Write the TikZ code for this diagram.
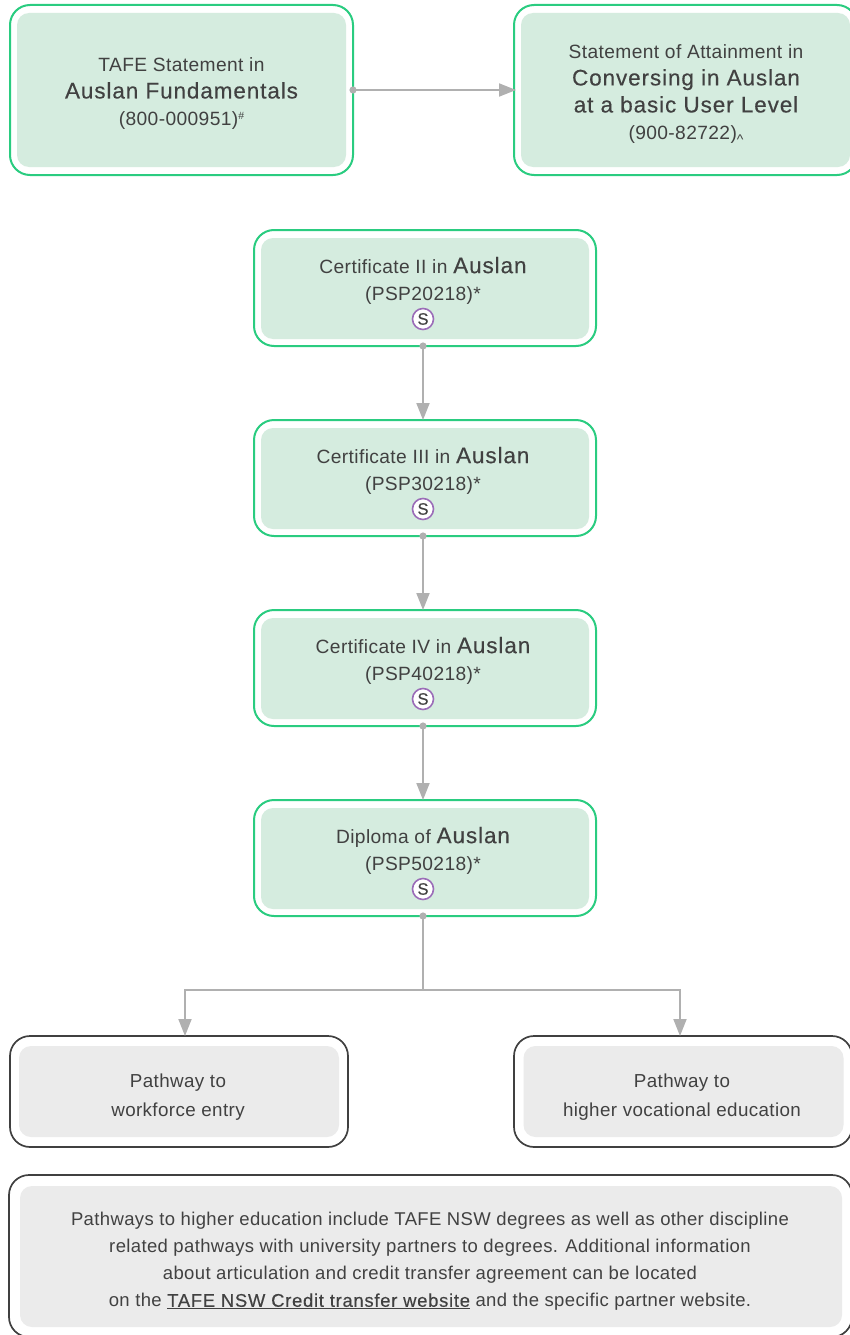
\documentclass[tikz,border=0pt]{standalone}
\usepackage{fontspec}
\setmainfont[LetterSpace=2]{Liberation Sans}
\newfontfamily\medfont[FakeBold=0.35,LetterSpace=4]{Liberation Sans}
\usetikzlibrary{arrows.meta}
\definecolor{gline}{HTML}{2ACC80}
\definecolor{gfill}{HTML}{D5ECDF}
\definecolor{dline}{HTML}{404040}
\definecolor{pfill}{HTML}{EBEBEB}
\definecolor{conn}{HTML}{B0B0B0}
\definecolor{ink}{HTML}{414141}
\definecolor{purp}{HTML}{9B6DB8}
\newcommand\bld[1]{{\medfont\fontsize{22.5}{27}\selectfont #1}}
\newcommand\rg{\fontsize{19.2}{27}\selectfont}
\newcommand\rgp{\fontsize{18.8}{29}\selectfont}
\newcommand\rgn{\fontsize{18.5}{27}\selectfont}
\tikzset{
  x=1pt,y=1pt,
  box/.style={rectangle,inner sep=0pt,outer sep=0pt},
  outgreen/.style={box,draw=gline,line width=2pt,fill=white,rounded corners=20pt},
  ingreen/.style={box,fill=gfill,rounded corners=12pt},
  outgrey/.style={box,draw=dline,line width=1.7pt,fill=white,rounded corners=20pt},
  ingrey/.style={box,fill=pfill,rounded corners=12pt},
  txt/.style={inner sep=0pt,outer sep=0pt,align=center,text=ink,font=\rg},
  txtp/.style={txt,font=\rgp},
  txtn/.style={txt,font=\rgn},
  badge/.style={circle,draw=purp,line width=1.6pt,fill=white,minimum size=21pt,inner sep=0pt,text=ink,font=\medfont\fontsize{16.5}{16.5}\selectfont},
  conline/.style={draw=conn,line width=2pt},
  tipped/.style={conline,{Circle[length=7pt,width=7pt]}-{Triangle[length=17pt,width=13pt]}},
  plaintip/.style={conline,-{Triangle[length=17pt,width=13pt]}},
  dotted start/.style={conline,{Circle[length=7pt,width=7pt]}-}
}
\begin{document}
\begin{tikzpicture}
\useasboundingbox (0,0) rectangle (850,-1335);
\clip (0,0) rectangle (850,-1335);
% top row
\node[outgreen,minimum width=343pt,minimum height=170pt] (a) at (181.5,-90) {};
\node[ingreen,minimum width=329pt,minimum height=154pt] (ai) at (181.5,-90) {};
\node[txt] (at) at (181.5,-93.5) {TAFE Statement in\\\bld{Auslan Fundamentals}\\(800-000951){\fontsize{10.5}{10.5}\selectfont\raisebox{6pt}{\#}}};
\node[outgreen,minimum width=343pt,minimum height=170pt] (b) at (685.5,-90) {};
\node[ingreen,minimum width=329pt,minimum height=154pt] (bi) at (685.5,-90) {};
\node[txt] (bt) at (686,-94.5) {\baselineskip=26.5pt Statement of Attainment in\\\bld{Conversing in Auslan}\\\bld{at a basic User Level}\\(900-82722){\fontsize{14}{14}\selectfont\raisebox{-5pt}{\textasciicircum}}};
% certificates
\node[outgreen,minimum width=342pt,minimum height=116pt] (c2) at (425,-288) {};
\node[ingreen,minimum width=328pt,minimum height=101pt] (c2i) at (425,-288.5) {};
\node[txt] (c2t) at (423,-280.5) {Certificate II in \bld{Auslan}\\(PSP20218)*};
\node[badge] (c2s) at (423,-319) {S};
\node[outgreen,minimum width=342pt,minimum height=116pt] (c3) at (425,-478) {};
\node[ingreen,minimum width=328pt,minimum height=101pt] (c3i) at (425,-478.5) {};
\node[txt] (c3t) at (423,-470.5) {Certificate III in \bld{Auslan}\\(PSP30218)*};
\node[badge] (c3s) at (423,-509) {S};
\node[outgreen,minimum width=342pt,minimum height=116pt] (c4) at (425,-668) {};
\node[ingreen,minimum width=328pt,minimum height=101pt] (c4i) at (425,-668.5) {};
\node[txt] (c4t) at (423,-660.5) {Certificate IV in \bld{Auslan}\\(PSP40218)*};
\node[badge] (c4s) at (423,-699) {S};
\node[outgreen,minimum width=342pt,minimum height=116pt] (d) at (425,-858) {};
\node[ingreen,minimum width=328pt,minimum height=101pt] (di) at (425,-858.5) {};
\node[txt] (dt) at (423,-850.5) {Diploma of \bld{Auslan}\\(PSP50218)*};
\node[badge] (ds) at (423,-889) {S};
% pathways
\node[outgrey,minimum width=338pt,minimum height=111pt] (p1) at (179,-1091.5) {};
\node[ingrey,minimum width=320pt,minimum height=91pt] (p1i) at (179,-1091.5) {};
\node[txtp] (p1t) at (178,-1097.5) {Pathway to\\workforce entry};
\node[outgrey,minimum width=338pt,minimum height=111pt] (p2) at (683,-1091.5) {};
\node[ingrey,minimum width=320pt,minimum height=91pt] (p2i) at (683.5,-1091.5) {};
\node[txtp] (p2t) at (682,-1097.5) {Pathway to\\higher vocational education};
\node[outgrey,minimum width=843pt,minimum height=162pt] (n) at (430.5,-1256) {};
\node[ingrey,minimum width=822pt,minimum height=141pt] (ni) at (431,-1256.5) {};
\node[txtn] (nt) at (430,-1261.5) {Pathways to higher education include TAFE NSW degrees as well as other discipline\\related pathways with university partners to degrees. Additional information\\about articulation and credit transfer agreement can be located\\on the \underline{\medfont\fontsize{18.4}{27}\selectfont TAFE NSW Credit transfer website} and the specific partner website.};
% connectors
\draw[tipped] ([xshift=-3.5pt]a.east) -- ([xshift=2pt]b.west);
\draw[tipped] ([shift={(-2pt,3.5pt)}]c2.south) -- ([xshift=-2pt]c3.north);
\draw[tipped] ([shift={(-2pt,3.5pt)}]c3.south) -- ([xshift=-2pt]c4.north);
\draw[tipped] ([shift={(-2pt,3.5pt)}]c4.south) -- ([xshift=-2pt]d.north);
\coordinate (j) at (423,-990);
\draw[dotted start] ([shift={(-2pt,3.5pt)}]d.south) -- (j);
\draw[plaintip] (j) -| ([xshift=6pt]p1.north);
\draw[plaintip] (j) -| ([xshift=-3pt]p2.north);
\end{tikzpicture}
\end{document}
